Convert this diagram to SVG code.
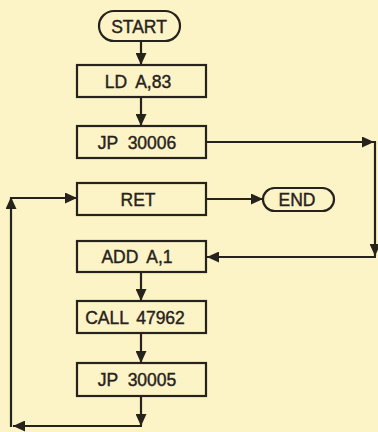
<svg xmlns="http://www.w3.org/2000/svg" width="378" height="432" viewBox="0 0 378 432">
<defs>
<marker id="ah" markerUnits="userSpaceOnUse" markerWidth="12" markerHeight="11" refX="12" refY="5.5" orient="auto">
<path d="M0,0 L12,5.5 L0,11 Z" fill="#26221c"/>
</marker>
<style>
.box{fill:#fcf3c6;stroke:#26221c;stroke-width:2.2}
.t{font-family:"Liberation Sans",Arial,sans-serif;font-size:17.5px;fill:#26221c;stroke:#26221c;stroke-width:0.4;text-anchor:middle}
.c{fill:none;stroke:#26221c;stroke-width:2.2;marker-end:url(#ah)}
</style>
</defs>
<rect width="378" height="432" fill="#fcf3c6"/>
<g id="connectors">
<path class="c" d="M141,41 V65"/>
<path class="c" d="M141,97 V126"/>
<path class="c" d="M206,142 H374"/>
<path class="c" d="M375,141 V256"/>
<path class="c" d="M376,257 H207"/>
<path class="c" d="M206,199 H263"/>
<path class="c" d="M141,272 V301"/>
<path class="c" d="M141,333 V363"/>
<path class="c" d="M141,396 V426"/>
<path class="c" d="M142,426 H13"/>
<path class="c" d="M11,427 V197"/>
<path class="c" d="M10,198 H77"/>
</g>
<g id="start">
<rect class="box" x="99" y="11" width="81" height="30" rx="15"/>
<text class="t" x="139" y="32.5">START</text>
</g>
<g id="ld">
<rect class="box" x="77" y="65" width="129" height="32"/>
<text class="t" x="138" y="87.5" word-spacing="4">LD A,83</text>
</g>
<g id="jp30006">
<rect class="box" x="77" y="126" width="129" height="32"/>
<text class="t" x="137" y="148.5" word-spacing="5">JP 30006</text>
</g>
<g id="ret">
<rect class="box" x="77" y="183" width="129" height="32"/>
<text class="t" x="138" y="205.5">RET</text>
</g>
<g id="end">
<rect class="box" x="263" y="188" width="71" height="23" rx="11.5"/>
<text class="t" x="297" y="205.5">END</text>
</g>
<g id="add">
<rect class="box" x="77" y="241" width="129" height="31"/>
<text class="t" x="137" y="262.5" word-spacing="4">ADD A,1</text>
</g>
<g id="call">
<rect class="box" x="77" y="301" width="129" height="32"/>
<text class="t" x="135" y="323.5" word-spacing="3">CALL 47962</text>
</g>
<g id="jp30005">
<rect class="box" x="77" y="363" width="129" height="33"/>
<text class="t" x="137" y="385.5" word-spacing="5">JP 30005</text>
</g>
</svg>
